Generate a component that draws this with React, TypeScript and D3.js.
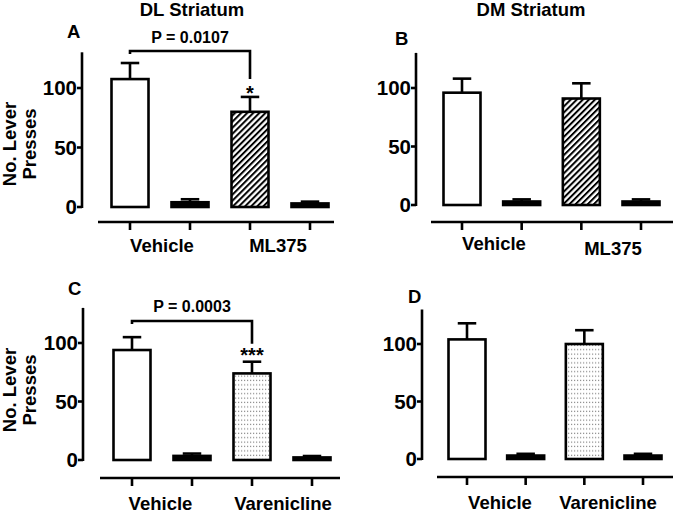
import React from "react";
import * as d3 from "d3";

const categories = ["Vehicle-A", "Vehicle-B", "Drug-A", "Drug-B"];
const groupLabelsML = ["Vehicle", "ML375"];
const groupLabelsVar = ["Vehicle", "Varenicline"];
const yTicks = [0, 50, 100];

const dlMeans = [107.5, 4, 80, 3];
const dlSem = [13.5, 2.5, 12.5, 1.5];
const dmMeans = [96, 3, 91, 3];
const dmSem = [12, 1.8, 13, 1.8];
const dlVarMeans = [94, 3.5, 74, 2.2];
const dlVarSem = [11, 2, 10, 1.2];
const dmVarMeans = [104, 3, 100, 3];
const dmVarSem = [14, 1.5, 12, 1.5];

const fills = ["white", "black", "PATTERN", "black"];

const FONT = "'Liberation Sans', Arial, sans-serif";

type PanelProps = {
  letter: string;
  title?: string;
  means: number[];
  sems: number[];
  labels: string[];
  pattern: string;
  yAxisX: number;
  y0: number;
  y100: number;
  xAxisY: number;
  xAxisX0: number;
  xAxisX1: number;
  c0: number;
  c1: number;
  letterX: number;
  letterY: number;
  titleX?: number;
  titleY?: number;
  labelCenters: number[];
  labelYs: number[];
  yLabel?: { cy: number };
  sig?: { y: number; text: string; textY: number; stars: string; starY: number };
};

function Panel(p: PanelProps) {
  const y = d3.scaleLinear().domain([0, 100]).range([p.y0, p.y100]);
  const x = d3.scalePoint<string>().domain(categories).range([p.c0, p.c1]);
  const bw = 37;
  const sw = 2.6;
  const yTop = y(130);
  return (
    <g>
      {p.title && (
        <text x={p.titleX} y={p.titleY} textAnchor="middle" fontSize={18.5} fontWeight="bold" fontFamily={FONT}>
          {p.title}
        </text>
      )}
      <text x={p.letterX} y={p.letterY} fontSize={18.5} fontWeight="bold" fontFamily={FONT}>
        {p.letter}
      </text>
      {/* y axis */}
      <line x1={p.yAxisX} x2={p.yAxisX} y1={yTop} y2={y(0) + 1} stroke="black" strokeWidth={sw} />
      {yTicks.map((t) => (
        <g key={t}>
          <line x1={p.yAxisX - 5} x2={p.yAxisX} y1={y(t)} y2={y(t)} stroke="black" strokeWidth={sw} />
          <text x={p.yAxisX - 5} y={y(t)} dy="0.36em" textAnchor="end" fontSize={20.5} fontWeight="bold" fontFamily={FONT}>
            {t}
          </text>
        </g>
      ))}
      {p.yLabel && (
        <g fontSize={18.5} fontWeight="bold" fontFamily={FONT} textAnchor="middle">
          <text transform={`translate(16,${p.yLabel.cy}) rotate(-90)`}>No. Lever</text>
          <text transform={`translate(36,${p.yLabel.cy}) rotate(-90)`}>Presses</text>
        </g>
      )}
      {/* x axis */}
      <line x1={p.xAxisX0} x2={p.xAxisX1} y1={p.xAxisY} y2={p.xAxisY} stroke="black" strokeWidth={sw} />
      {categories.map((c) => (
        <line key={c} x1={x(c)} x2={x(c)} y1={p.xAxisY} y2={p.xAxisY + 8} stroke="black" strokeWidth={sw} />
      ))}
      {p.labels.map((l, i) => (
        <text key={l} x={p.labelCenters[i]} y={p.labelYs[i]} textAnchor="middle" fontSize={18.5} fontWeight="bold" fontFamily={FONT}>
          {l}
        </text>
      ))}
      {/* bars */}
      {categories.map((c, i) => {
        const cx = x(c) as number;
        const top = y(p.means[i]);
        const errTop = y(p.means[i] + p.sems[i]);
        const fill = fills[i] === "PATTERN" ? `url(#${p.pattern})` : fills[i];
        return (
          <g key={c}>
            <line x1={cx} x2={cx} y1={top} y2={errTop} stroke="black" strokeWidth={sw} />
            <line x1={cx - bw / 4} x2={cx + bw / 4} y1={errTop} y2={errTop} stroke="black" strokeWidth={sw} />
            <rect x={cx - bw / 2} y={top} width={bw} height={y(0) - top} fill={fill} stroke="black" strokeWidth={sw} />
          </g>
        );
      })}
      {p.sig && (
        <g>
          <path
            d={`M${x(categories[0])},${p.sig.y + 3}V${p.sig.y}H${x(categories[2])}V${y(p.means[2] + p.sems[2]) - 18}`}
            fill="none"
            stroke="black"
            strokeWidth={sw}
          />
          <text x={((x(categories[0]) as number) + (x(categories[2]) as number)) / 2} y={p.sig.textY} textAnchor="middle" fontSize={16} fontWeight="bold" fontFamily={FONT}>
            {p.sig.text}
          </text>
          <text x={x(categories[2])} y={p.sig.starY} textAnchor="middle" fontSize={20} fontWeight="bold" fontFamily={FONT}>
            {p.sig.stars}
          </text>
        </g>
      )}
    </g>
  );
}

export default function App() {
  return (
    <svg width={675} height={513} style={{ position: "absolute", left: 0, top: 0, background: "white" }}>
      <defs>
        <pattern id="hatch" patternUnits="userSpaceOnUse" width={4.3} height={4.3} patternTransform="rotate(45)">
          <rect width={4.3} height={4.3} fill="white" />
          <line x1={1} x2={1} y1={0} y2={4.3} stroke="black" strokeWidth={2} />
        </pattern>
        <pattern id="dots" patternUnits="userSpaceOnUse" width={3} height={4.4}>
          <rect width={3} height={4.4} fill="white" />
          <rect x={1} y={1.5} width={1.2} height={1.2} fill="#8a8a8a" />
        </pattern>
      </defs>
      <rect width={675} height={513} fill="white" />
      <Panel
        letter="A"
        title="DL Striatum"
        titleX={192}
        titleY={16}
        means={dlMeans}
        sems={dlSem}
        labels={groupLabelsML}
        pattern="hatch"
        yAxisX={82}
        y0={207}
        y100={88}
        xAxisY={222}
        xAxisX0={98}
        xAxisX1={334}
        c0={130}
        c1={310}
        letterX={67}
        letterY={38}
        labelCenters={[162, 278]}
        labelYs={[252, 252]}
        yLabel={{ cy: 144 }}
        sig={{ y: 51, text: "P = 0.0107", textY: 43, stars: "*", starY: 100 }}
      />
      <Panel
        letter="B"
        title="DM Striatum"
        titleX={531}
        titleY={16}
        means={dmMeans}
        sems={dmSem}
        labels={groupLabelsML}
        pattern="hatch"
        yAxisX={416}
        y0={205}
        y100={88}
        xAxisY={222}
        xAxisX0={431}
        xAxisX1={673}
        c0={462}
        c1={641}
        letterX={395}
        letterY={45}
        labelCenters={[494, 613]}
        labelYs={[250, 255]}
      />
      <Panel
        letter="C"
        means={dlVarMeans}
        sems={dlVarSem}
        labels={groupLabelsVar}
        pattern="dots"
        yAxisX={83}
        y0={460}
        y100={343}
        xAxisY={478}
        xAxisX0={100}
        xAxisX1={340}
        c0={132}
        c1={312}
        letterX={68}
        letterY={295}
        labelCenters={[160.5, 283]}
        labelYs={[510, 510]}
        yLabel={{ cy: 390 }}
        sig={{ y: 321, text: "P = 0.0003", textY: 312, stars: "***", starY: 362 }}
      />
      <Panel
        letter="D"
        means={dmVarMeans}
        sems={dmVarSem}
        labels={groupLabelsVar}
        pattern="dots"
        yAxisX={422}
        y0={459}
        y100={344}
        xAxisY={477}
        xAxisX0={437}
        xAxisX1={673}
        c0={467}
        c1={643}
        letterX={408}
        letterY={303}
        labelCenters={[500, 608]}
        labelYs={[509, 509]}
      />
    </svg>
  );
}
